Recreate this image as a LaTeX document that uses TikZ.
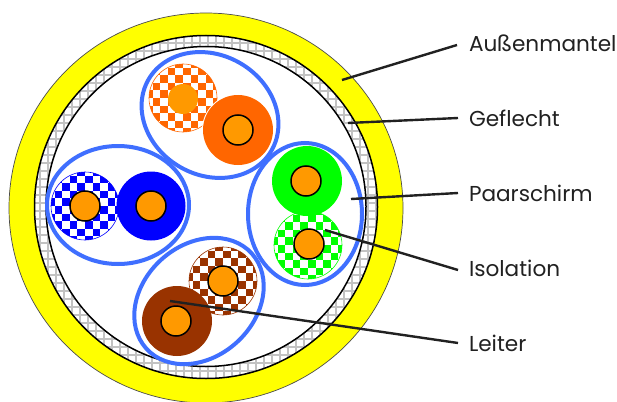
\documentclass[tikz,border=0pt]{standalone}
\usepackage{fontspec}
\setmainfont{Poppins}
\definecolor{jacket}{HTML}{FFFF00}
\definecolor{mesh}{gray}{0.76}
\definecolor{foil}{HTML}{3F6FFF}
\definecolor{copper}{HTML}{FF9900}
\definecolor{wireor}{HTML}{FF6600}
\definecolor{wirebl}{HTML}{0000FF}
\definecolor{wiregn}{HTML}{00FF00}
\definecolor{wirebr}{HTML}{993300}
\definecolor{ink}{gray}{0.13}

% checkered insulation: centre x, centre y, colour
\newcommand{\checkwire}[3]{%
  \begin{scope}
    \clip (#1,#2) circle (34);
    \foreach \i in {-5,...,4} {
      \foreach \j in {-5,...,4} {
        \pgfmathparse{int(mod(\i+\j+10,2))}
        \ifnum\pgfmathresult=0
          \fill[#3] (#1+\i*7.6,#2+\j*7.6) rectangle ++(7.6,7.6);
        \fi
      }
    }
  \end{scope}
  \draw[#3,line width=0.6pt] (#1,#2) circle (34);
}

\begin{document}
\begin{tikzpicture}[x=1pt,y=-1pt,
  every node/.style={inner sep=0pt,outer sep=0pt},
  lbl/.style={font=\fontsize{21.6}{24}\selectfont,text=ink,anchor=west},
  shield/.style={draw=foil,line width=4pt},
  core/.style={draw=black,line width=1.5pt,fill=copper},
  lead/.style={draw=ink,line width=2.4pt}]
\useasboundingbox (0,0) rectangle (617,401);
\clip (0,0) rectangle (617,401);

% ---- jacket and braid ------------------------------------------------------
\fill[white] (0,0) rectangle (617,401);
\draw[fill=jacket,draw=black!70,line width=0.7pt] (206,208) ellipse[x radius=197,y radius=195];
\begin{scope}
  \clip (206,207) circle (171.5);
  \fill[white] (0,0) rectangle (617,401);
  \foreach \k in {0,...,50} {
    \draw[mesh,line width=2.2pt] (\k*8,0) -- (\k*8,401);
    \draw[mesh,line width=2.2pt] (0,\k*8+3) -- (617,\k*8+3);
  }
\end{scope}
\draw[black,line width=1.5pt] (206,207) circle (171.5);
\draw[black,line width=1.5pt,fill=white] (206,206.5) circle (160);

% ---- pair shields ----------------------------------------------------------
\draw[shield] (210,115) ellipse[x radius=71,y radius=60,rotate=-30];
\draw[shield] (118,205) ellipse[x radius=71,y radius=59];
\draw[shield] (305,214) ellipse[x radius=57,y radius=71];
\draw[shield] (199,301) ellipse[x radius=71,y radius=56,rotate=42];

% ---- pairs -----------------------------------------------------------------
\checkwire{183}{98}{wireor}
\fill[white] (238,130) circle (36);
\fill[wireor] (238,130) circle (35);
\fill[copper] (183,99) circle (15);
\draw[core] (238,130) circle (15);

\checkwire{85}{206}{wirebl}
\fill[wirebl] (151,206) circle (34.5);
\draw[core] (85,206) circle (15);
\draw[core] (151,206) circle (15);

\checkwire{308}{245}{wiregn}
\fill[wiregn] (307,181) circle (35);
\draw[core] (306,181) circle (15);
\draw[core] (309,244) circle (15);

\checkwire{223}{281}{wirebr}
\fill[wirebr] (177,321) circle (35);
\draw[core] (223,281) circle (15);
\draw[core] (176,321) circle (15);

% ---- labels and leaders ----------------------------------------------------
\node[lbl] (aussen) at (469,43) {Außenmantel};
\node[lbl] (geflecht) at (469,118) {Geflecht};
\node[lbl] (paar) at (469,193) {Paarschirm};
\node[lbl] (iso) at (469,268) {Isolation};
\node[lbl] (leiter) at (469,343) {Leiter};

\coordinate (tipA) at (342,80);
\coordinate (tipB) at (348,123);
\coordinate (tipC) at (351,199);
\coordinate (tipD) at (325,230);
\coordinate (tipE) at (170,301);

\draw[lead] (tipA) -- ([xshift=-12pt,yshift=-2pt]aussen.west);
\draw[lead] (tipB) -- ([xshift=-11pt]geflecht.west);
\draw[lead] (tipC) -- ([xshift=-11pt]paar.west);
\draw[lead] (tipD) -- ([xshift=-11pt,yshift=-2pt]iso.west);
\draw[lead] (tipE) -- ([xshift=-11pt]leiter.west);
\end{tikzpicture}
\end{document}
